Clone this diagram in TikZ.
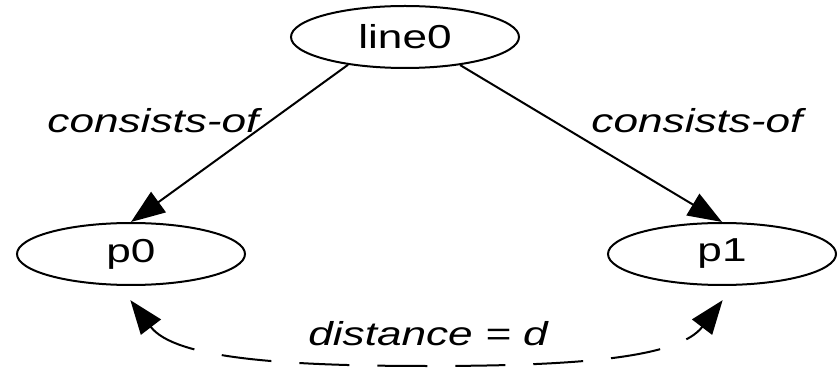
\documentclass[tikz,border=0pt]{standalone}
\usepackage{fontspec}
\setmainfont{Liberation Sans}
\usepackage{graphicx}
\usetikzlibrary{arrows.meta,shapes.geometric}

% labels are set wide, as in the ellipses
\newcommand{\wide}[1]{\scalebox{1.33}[1]{#1}}

\begin{document}
\begin{tikzpicture}[
  x=0.5pt,y=-0.5pt,
  obj/.style={draw,ellipse,line width=1pt,minimum width=114pt,minimum height=31pt,inner sep=0pt,font=\fontsize{16.6}{20}\selectfont},
  rel/.style={font=\fontsize{16.6}{20}\selectfont\itshape,anchor=base,inner sep=0pt},
  link/.style={line width=1pt,-{Triangle[length=17pt,width=12.5pt]}},
  measure/.style={line width=1pt,{Triangle[length=17pt,width=12.5pt]}-{Triangle[length=17pt,width=12.5pt]},dash pattern=on 25pt off 14pt,shorten <=9pt,shorten >=9pt}
]
  \useasboundingbox (0,0) rectangle (839,368);
  % objects
  \node[obj] (line0) at (405,37) {\wide{line0}};
  \node[obj] (p0) at (131,254) {\wide{p0}};
  \node[obj] (p1) at (722,254) {\wide{p1}};
  % part-of links
  \draw[link] (line0.206) -- (p0.north);
  \draw[link] (line0.333) -- (p1.north);
  \node[rel] (ofleft) at (153,133) {\wide{consists-of}};
  \node[rel] (ofright) at (697,133) {\wide{consists-of}};
  % distance between the points
  \coordinate (dip) at (428,366);
  \draw[measure] (p0.250) .. controls +(55,72) and +(-150,0) .. (dip)
    .. controls +(150,0) and +(-55,72) .. (p1.290);
  \node[rel] (dist) at (428,345) {\wide{distance = d}};
\end{tikzpicture}
\end{document}
